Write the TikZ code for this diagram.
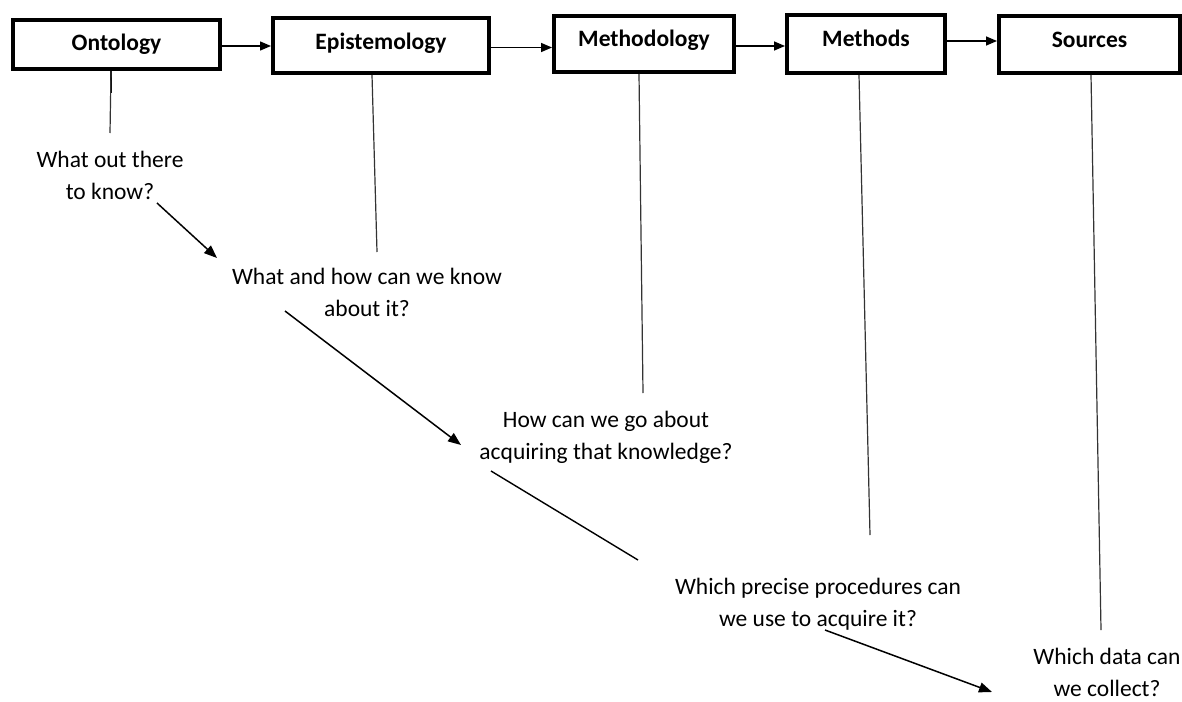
\documentclass[tikz,border=0pt]{standalone}
\usepackage{fontspec}
\setmainfont{Carlito}
\usetikzlibrary{arrows.meta}
\tikzset{
  stage/.style={draw=black, line width=4pt, fill=white, inner sep=0pt,
    font=\fontsize{23.5}{28}\selectfont\bfseries, text height=14pt, text depth=8pt},
  question/.style={inner sep=0pt, align=center, font=\fontsize{23.5}{32}\selectfont},
  flow/.style={line width=1.5pt, -{Triangle[length=11pt,width=9pt]}},
  drop/.style={line width=1.2pt, draw=black!80},
  lead/.style={line width=1.5pt, -{Triangle[length=13pt,width=10pt]}},
  plain/.style={line width=1.4pt}
}
\begin{document}
\begin{tikzpicture}[x=1pt,y=-1pt]
\useasboundingbox (0,0) rectangle (1182,701);

% the five stages
\node[stage, text depth=2pt, minimum width=207pt, minimum height=49pt] (onto) at (116.5,44.5) {Ontology};
\node[stage, text depth=7pt, minimum width=216pt, minimum height=55pt] (epi)  at (381,45.5) {Epistemology};
\node[stage, minimum width=180pt, minimum height=56pt] (mety) at (644,44) {Methodology};
\node[stage, minimum width=158pt, minimum height=58pt] (meth) at (866,44) {Methods};
\node[stage, minimum width=181pt, minimum height=57pt] (src)  at (1089.5,44.5) {Sources};

% arrows between stages
\draw[flow] ([yshift=-1.5pt]onto.east) -- ([yshift=-1.5pt]onto.east -| epi.west);
\draw[flow] ([yshift=-2pt]epi.east) -- ([yshift=-2pt]epi.east -| mety.west);
\draw[flow] ([yshift=-2pt]mety.east) -- ([yshift=-2pt]mety.east -| meth.west);
\draw[flow] ([yshift=3pt]meth.east) -- ([yshift=3pt]meth.east -| src.west);

% guiding questions
\node[question] (q1) at (110,175) {What out there\\to know?};
\node[question] (q2) at (367,292) {What and how can we know\\about it?};
\node[question] (q3) at (606,437) {How can we go about\\acquiring that knowledge?};
\node[question] (q4) at (818,604) {Which precise procedures can\\we use to acquire it?};
\node[question] (q5) at (1107,672) {Which data can\\we collect?};

% ends of the drop lines above each question
\coordinate (d1) at (110,133);
\coordinate (d2) at (377,252);
\coordinate (d3) at (643,393);
\coordinate (d4) at (870,535);
\coordinate (d5) at (1101,630);

\draw[line width=2.2pt] ([xshift=-5.5pt]onto.south) -- ++(0,22);
\draw[drop] ([xshift=-5.5pt]onto.south) -- (d1);
\draw[drop] ([xshift=-9pt]epi.south) -- (d2);
\draw[drop] ([xshift=-5pt]mety.south) -- (d3);
\draw[drop] ([xshift=-7pt]meth.south) -- (d4);
\draw[drop] ([xshift=1.5pt]src.south) -- (d5);

% diagonal links from one question to the next
\coordinate (l1s) at (157,203);
\coordinate (l1e) at (217,258);
\coordinate (l2s) at (285,311);
\coordinate (l2e) at (461,445);
\coordinate (l3s) at (491,471);
\coordinate (l3e) at (638,560);
\coordinate (l4s) at (825,630);
\coordinate (l4e) at (992,692);

\draw[lead] (l1s) -- (l1e);
\draw[lead] (l2s) -- (l2e);
\draw[plain] (l3s) -- (l3e);
\draw[lead] (l4s) -- (l4e);
\end{tikzpicture}
\end{document}
